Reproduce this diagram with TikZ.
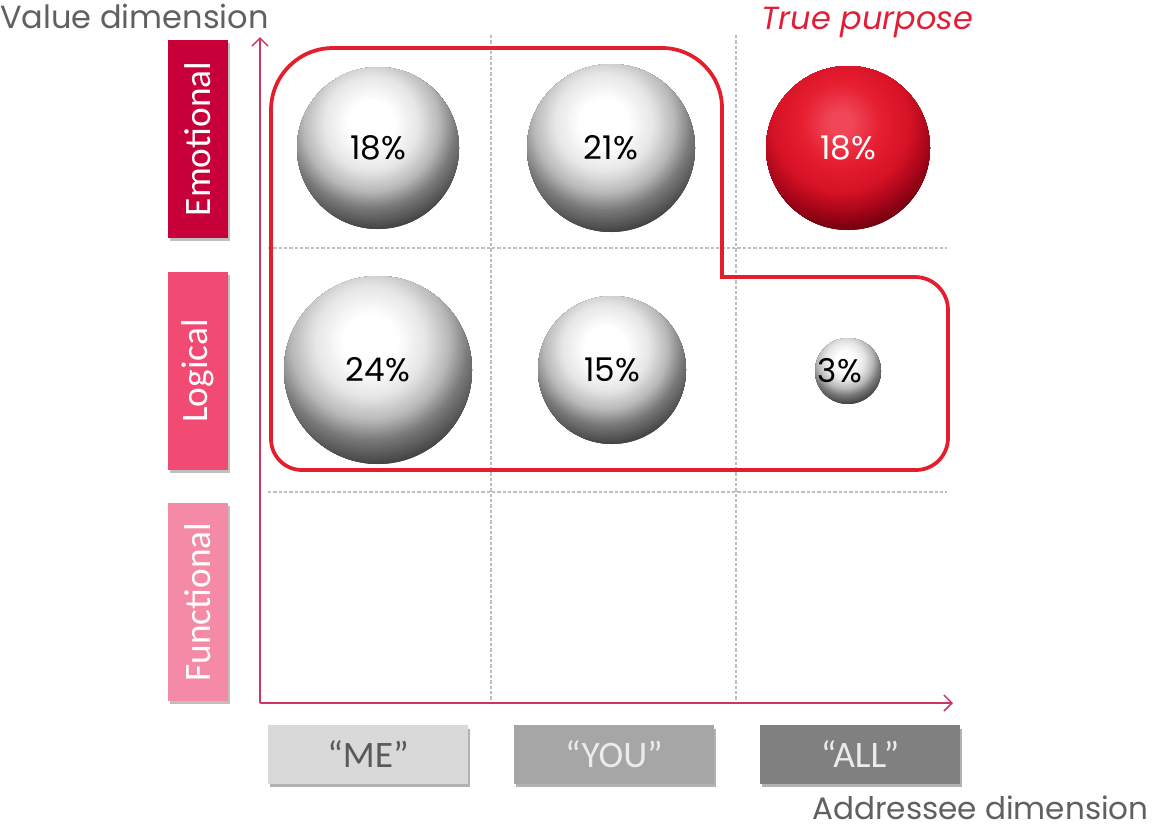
\documentclass[tikz,border=0pt]{standalone}
\usepackage{fontspec}
\setmainfont{Carlito}
\newfontfamily\geo{Poppins}
\usetikzlibrary{shadows,arrows.meta}
\definecolor{emo}{RGB}{200,0,58}
\definecolor{logi}{RGB}{242,75,115}
\definecolor{func}{RGB}{244,138,165}
\definecolor{outl}{RGB}{227,30,45}
\definecolor{axisc}{RGB}{205,55,95}
\definecolor{titlec}{RGB}{96,96,96}
\definecolor{purp}{RGB}{225,30,55}
\definecolor{meb}{RGB}{217,217,217}
\definecolor{youb}{RGB}{166,166,166}
\definecolor{allb}{RGB}{128,128,128}
\definecolor{gridc}{RGB}{190,190,190}
\definecolor{rbA}{RGB}{240,70,88}
\definecolor{rbB}{RGB}{230,30,48}
\definecolor{rbC}{RGB}{214,18,38}
\definecolor{rbD}{RGB}{170,6,26}
\definecolor{rbE}{RGB}{110,0,14}
% sphere colour as a function of s = distance from highlight / radius
\newcommand\greycol[1]{%
  \pgfmathsetmacro\pp{#1<0.3 ? 0 : (#1<0.6 ? (#1-0.3)/0.3*10 : (#1<0.85 ? 10+(#1-0.6)/0.25*18 : (#1<1.05 ? 28+(#1-0.85)/0.2*24 : min(74,52+(#1-1.05)/0.27*22))))}%
  \colorlet{spc}{black!\pp!white}}
\newcommand\redcol[1]{%
  \ifdim #1pt<0.15pt \colorlet{spc}{rbA}\else
  \ifdim #1pt<0.5pt \pgfmathsetmacro\qq{(#1-0.15)/0.35*100}\colorlet{spc}{rbB!\qq!rbA}\else
  \ifdim #1pt<0.85pt \pgfmathsetmacro\qq{(#1-0.5)/0.35*100}\colorlet{spc}{rbC!\qq!rbB}\else
  \ifdim #1pt<1.08pt \pgfmathsetmacro\qq{(#1-0.85)/0.23*100}\colorlet{spc}{rbD!\qq!rbC}\else
  \pgfmathsetmacro\qq{min(100,(#1-1.08)/0.26*100)}\colorlet{spc}{rbE!\qq!rbD}\fi\fi\fi\fi}
\newcommand\spherefill[2]{% #1 radius (pt, number), #2 colour macro
  \pgfmathsetmacro\hx{-0.08*#1}%
  \pgfmathsetmacro\hy{0.3*#1}%
  \foreach \i in {0,...,63}{%
    \pgfmathsetmacro\sv{1.34*(1-\i/64)}%
    \pgfmathsetmacro\rr{\sv*#1}%
    #2{\sv}%
    \fill[spc] ([shift={(\hx pt,\hy pt)}]path picture bounding box.center) circle[radius=\rr pt];
  }}
\tikzset{
  sidebox/.style={draw=none, minimum width=45pt, minimum height=148.5pt, inner sep=0pt, text=white,
    font=\fontsize{28}{28}\selectfont, drop shadow={shadow xshift=1.5pt, shadow yshift=-2pt, fill=black, opacity=0.25}},
  botbox/.style={draw=none, minimum width=150pt, minimum height=44pt, inner sep=0pt,
    font=\fontsize{28}{28}\selectfont, drop shadow={shadow xshift=1.5pt, shadow yshift=-2.5pt, fill=black, opacity=0.3}},
  gsph/.style={circle, inner sep=0pt, minimum size={2*#1pt}, path picture={\spherefill{#1}{\greycol}},
    text=black, font=\geo\fontsize{24.5}{24.5}\selectfont},
  rsph/.style={circle, inner sep=0pt, minimum size={2*#1pt}, path picture={\spherefill{#1}{\redcol}},
    text=white, font=\geo\fontsize{24.5}{24.5}\selectfont},
  gridline/.style={draw=gridc, line width=0.9pt, dash pattern=on 2.5pt off 1.5pt},
  axis/.style={draw=axisc, line width=1.1pt, -{Straight Barb[length=6pt,width=12pt]}},
  purpose/.style={draw=outl, line width=2.8pt},
  axtitle/.style={text=titlec, inner sep=0pt, font=\geo\fontsize{24}{24}\selectfont}
}
\begin{document}
\begin{tikzpicture}[x=0.75pt, y=-0.75pt]
\useasboundingbox (0,0) rectangle (1163,826);
% grid
\draw[gridline] (491,35) -- (491,700);
\draw[gridline] (736,35) -- (736,700);
\draw[gridline] (268,248) -- (947,248);
\draw[gridline] (268,492) -- (947,492);
% axes
\coordinate (O) at (260,703);
\coordinate (ytip) at (260,37);
\coordinate (xtip) at (953,703);
\draw[axis] (O) -- (ytip);
\draw[axis] (O) -- (xtip);
% titles
\node[axtitle, anchor=base west] (vt) at (0,28) {Value dimension};
\node[axtitle, anchor=base west, font=\geo\fontsize{23.3}{23.3}\selectfont] (at) at (812,819) {Addressee dimension};
\node[axtitle, text=purp, anchor=base west] (tp) at (761,29) {\itshape True purpose};
% side boxes
\node[sidebox, fill=emo] (emo) at (198,139) {\rotatebox{90}{Emotional}};
\node[sidebox, fill=logi] (logi) at (198,371) {\rotatebox{90}{Logical}};
\node[sidebox, fill=func] (func) at (198,602) {\rotatebox{90}{Functional}};
% bottom boxes
\node[botbox, fill=meb, text=black!65] (me) at (368,754.5) {“ME”};
\node[botbox, fill=youb, text=white!92!black] (you) at (614,754.5) {“YOU”};
\node[botbox, fill=allb, text=white!92!black] (all) at (860,754.5) {“ALL”};
% purpose outline
\draw[purpose] (271,110) arc[start angle=180, end angle=90, radius=46.5pt]
  -- (662,48) arc[start angle=90, end angle=0, radius=45pt]
  -- (722,277) -- (915,277) arc[start angle=90, end angle=0, radius=24.75pt]
  -- (948,438) arc[start angle=0, end angle=-90, radius=24pt]
  -- (302,470) arc[start angle=270, end angle=180, radius=23.25pt]
  -- cycle;
% spheres
\node[gsph=60.75] (s1) at (378,148) {18\%};
\node[gsph=63] (s2) at (611,148) {21\%};
\node[rsph=61.5] (s3) at (848,148) {18\%};
\node[gsph=70.5] (s4) at (378,370) {24\%};
\node[gsph=55.5] (s5) at (612,370) {15\%};
\node[gsph=24.75] (s6) at (848,371) {};
\node[text=black, inner sep=0pt, font=\geo\fontsize{24.5}{24.5}\selectfont] (t6) at (840,371) {3\%};
\end{tikzpicture}
\end{document}
